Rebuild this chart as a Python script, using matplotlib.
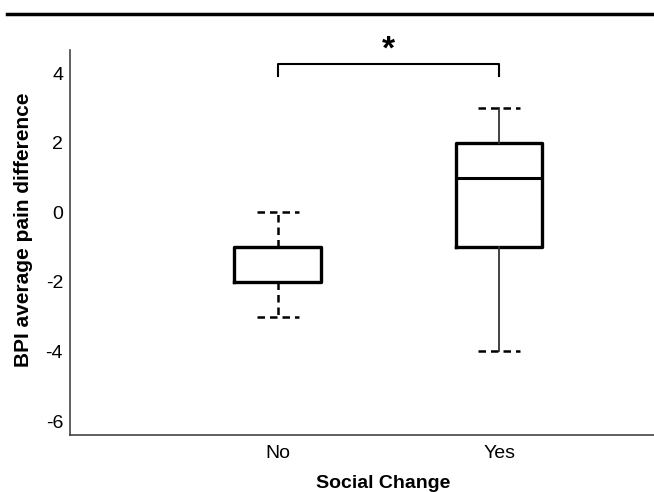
import matplotlib
matplotlib.use("Agg")
import matplotlib.pyplot as plt
from matplotlib.lines import Line2D

plt.rcParams['font.family'] = ['Liberation Sans', 'DejaVu Sans']

groups = ["No", "Yes"]
whislo = [-3, -4]
q1 = [-2, -1]
med = [-1, 1]
q3 = [-1, 2]
whishi = [0, 3]
yticks = [-6, -4, -2, 0, 2, 4]

fig = plt.figure(figsize=(6.54, 4.92), dpi=100)
ax = fig.add_axes([0.107, 0.116, 0.9, 0.782])

stats = []
for i in range(len(groups)):
    stats.append({'label': groups[i], 'whislo': whislo[i], 'q1': q1[i], 'med': med[i],
                  'q3': q3[i], 'whishi': whishi[i], 'fliers': []})

bp = ax.bxp(stats, positions=[1, 2], widths=0.39, showfliers=False,
            boxprops=dict(color='black', linewidth=2.4),
            medianprops=dict(color='black', linewidth=2.2),
            whiskerprops=dict(color='#333333', linewidth=1.3),
            capprops=dict(color='black', linewidth=1.8, linestyle=(0, (3, 2))),
            capwidths=0.19)

# "No" whiskers dashed, "Yes" solid
for w in bp['whiskers'][:2]:
    w.set_linestyle((0, (3, 2)))
    w.set_linewidth(1.8)
    w.set_color('black')

ax.set_xlim(0.063, 2.72)
ax.set_ylim(-6.4, 4.66)
ax.set_yticks(yticks)
ax.set_yticklabels([str(t) for t in yticks])
ax.set_xticks([1, 2])
ax.set_xticklabels(groups)
ax.tick_params(length=0, labelsize=14, pad=5)
ax.tick_params(axis='x', pad=7)
for s in ['top', 'right']:
    ax.spines[s].set_visible(False)
for s in ['left', 'bottom']:
    ax.spines[s].set_linewidth(1.2)
    ax.spines[s].set_color('#444444')

ax.set_xlabel("Social Change", fontsize=14, fontweight='bold')
ax.set_ylabel("BPI average pain difference", fontsize=15, fontweight='bold')
ax.xaxis.set_label_coords(0.532, -0.105)
ax.yaxis.set_label_coords(-0.063, 0.532)

# significance bracket
ax.plot([1, 1, 2, 2], [3.92, 4.26, 4.26, 3.92], color='black', linewidth=1.5, clip_on=False)
ax.text(1.5, 4.66, "*", ha='center', va='center', fontsize=24, fontweight='bold', clip_on=False)

# top rule line
fig.add_artist(Line2D([0.01, 1.0], [0.972, 0.972], color='black', linewidth=2.5))

fig.savefig("out.png", dpi=100)
